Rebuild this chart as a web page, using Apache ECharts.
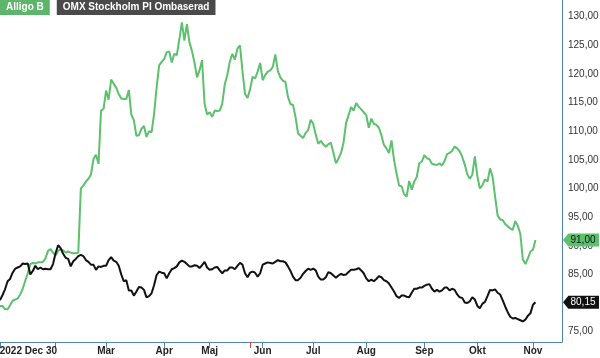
<!DOCTYPE html>
<html><head><meta charset="utf-8">
<script src="https://cdn.jsdelivr.net/npm/echarts@6/dist/echarts.min.js"></script>
<style>html,body{margin:0;padding:0;background:#fff}#c{width:600px;height:358px}</style>
</head><body><div id="c"></div>
<script>
// Trading-day values, day 0 = 2022-12-30
const alligoB = [
79.5,79.5,78.9,78.9,79.6,80.4,80.6,80.8,81.5,82.5,
83.9,85.2,86.8,87.0,86.9,87.1,87.1,87.2,87.8,89.1,
89.4,88.8,88.3,89.1,89.4,89.2,88.8,89.0,88.8,88.7,
88.7,88.8,100.0,100.5,101.2,101.7,102.4,105.1,105.9,104.3,
113.6,113.9,117.1,115.5,119.0,118.3,117.6,116.5,115.7,115.6,
115.6,117.2,112.9,111.9,109.2,109.3,110.4,110.9,109.0,110.0,
109.8,113.0,117.6,121.5,122.1,122.6,123.8,123.9,122.0,123.5,
123.3,126.0,129.0,125.8,128.7,125.5,124.0,122.0,119.4,120.6,
122.4,114.8,112.9,113.3,112.5,113.6,113.5,113.6,114.8,118.2,
119.8,122.2,123.5,122.5,124.4,125.0,120.5,116.5,115.8,117.3,
119.5,119.2,120.4,121.9,118.9,119.8,120.4,120.6,121.2,123.4,
120.5,119.4,118.8,118.6,116.0,114.7,114.6,112.5,109.6,109.2,
108.8,109.7,110.2,112.0,111.3,109.4,107.8,108.3,107.7,107.3,
107.7,108.0,106.2,104.4,105.2,106.2,108.0,111.4,112.8,114.2,
113.6,114.9,114.3,113.8,113.3,112.8,110.6,112.2,111.3,111.1,
110.6,109.3,107.6,107.0,106.2,108.4,105.0,102.6,100.5,100.4,
99.0,98.6,101.3,99.8,101.2,102.0,104.4,104.7,105.8,105.3,
105.1,104.3,104.2,104.1,104.4,104.0,104.8,106.0,106.2,106.6,
107.3,107.0,106.5,105.5,104.2,102.5,101.7,102.4,105.6,102.1,
100.0,100.6,101.6,101.2,103.5,102.1,98.6,95.3,94.6,94.5,
93.8,93.4,93.0,92.8,94.3,93.5,92.1,87.6,86.8,87.8,
89.0,89.3,91.0
];
const omxPI = [
80.5,81.4,82.4,83.8,84.2,85.3,86.0,86.2,86.4,86.9,
86.8,86.9,85.0,85.6,86.5,85.9,86.2,85.9,86.0,85.9,
85.9,86.8,88.7,90.1,89.6,88.6,87.9,87.7,86.4,87.3,
87.7,88.2,88.4,88.2,87.5,87.2,86.7,86.7,85.8,86.4,
86.3,86.5,86.5,87.5,88.0,87.4,87.2,86.5,85.0,83.8,
84.0,82.2,82.2,81.3,82.0,82.8,82.7,82.3,81.0,81.2,
81.7,83.1,84.9,85.5,85.3,85.2,84.3,85.2,85.9,86.1,
86.4,87.1,87.4,87.2,86.8,86.4,86.4,86.6,86.5,86.1,
86.6,87.2,86.2,85.8,85.9,86.2,86.3,85.7,85.2,85.7,
85.7,86.2,86.2,85.9,86.5,87.0,86.7,85.2,84.5,85.3,
85.5,85.3,84.6,85.2,86.7,86.9,87.1,87.0,86.9,87.2,
87.5,87.3,87.3,87.1,86.4,85.6,84.6,84.0,84.0,84.4,
85.1,85.6,86.0,85.8,86.0,85.7,84.6,84.1,84.1,84.5,
85.4,85.2,84.8,84.4,84.8,85.1,84.9,85.0,85.4,85.8,
85.8,85.9,86.1,85.7,85.2,84.3,83.8,84.1,83.8,84.2,
84.7,84.5,84.0,83.8,83.4,82.7,82.0,81.2,80.9,81.3,
81.3,81.1,81.0,81.8,82.5,82.5,82.7,82.7,83.0,83.2,
83.3,82.5,82.0,82.3,82.0,82.2,82.7,82.7,82.2,82.5,
82.3,81.5,81.0,80.9,80.1,80.0,80.3,81.0,80.6,79.5,
79.1,79.9,80.2,81.2,82.3,82.2,82.4,81.8,81.5,80.5,
79.4,78.4,77.6,77.3,77.4,77.2,77.0,76.8,77.1,77.8,
78.2,79.7,80.15
];
const monthTickDays = [0,22,42,65,83,104,124,145,168,189,211];
const monthTickLabels = ['2022 Dec 30','','Mar','Apr','Maj','Jun','Jul','Aug','Sep','Okt','Nov'];
const eventDays = [99];
const yTicks = [75,80,85,90,95,100,105,110,115,120,125,130];
const seriesNames = ['Alligo B','OMX Stockholm PI Ombaserad'];

const X_MIN = 0, X_MAX = 222.5, Y_MIN = 73.2, Y_MAX = 132.9;
const GREEN = '#5cc06e', BLACK = '#111111', AXIS = '#4f86ae';
const FONT = 'Liberation Sans, Arial, sans-serif';
const fmt = v => v.toFixed(2).replace('.', ',');
const toPairs = arr => arr.map((v, i) => [i, v]);

function endTag(arr, bg, fg) {
  const last = arr[arr.length - 1];
  return {
    silent: true, animation: false,
    symbol: 'path://M0,6L6,0L40,0L40,12L6,12Z',
    symbolSize: [36, 13],
    symbolOffset: [19, 0],
    itemStyle: { color: bg },
    label: { show: true, position: 'inside', offset: [2, 0], color: fg, fontSize: 10,
             fontFamily: FONT, formatter: () => fmt(last) },
    data: [{ coord: [X_MAX, last] }]
  };
}

const chart = echarts.init(document.getElementById('c'), null, { renderer: 'canvas' });
chart.setOption({
  animation: false,
  backgroundColor: '#fff',
  grid: { left: 0, right: 38, top: 0, bottom: 16, containLabel: false, outerBoundsMode: 'none' },
  legend: {
    left: -5, top: 0, itemGap: 2, itemWidth: 0, itemHeight: 0, icon: 'none',
    selectedMode: false, padding: 0,
    data: [
      { name: seriesNames[0], textStyle: { color: '#fff', backgroundColor: '#5cb56a', padding: [3, 6, 2, 6], fontWeight: 'bold', fontSize: 10, fontFamily: FONT } },
      { name: seriesNames[1], textStyle: { color: '#fff', backgroundColor: '#4a4a4a', padding: [3, 6, 2, 6], fontWeight: 'bold', fontSize: 10, fontFamily: FONT } }
    ]
  },
  xAxis: [{
    type: 'value', min: X_MIN, max: X_MAX,
    splitLine: { show: false },
    axisLine: { show: true, onZero: false, lineStyle: { color: AXIS, width: 1 } },
    axisTick: { show: true, customValues: monthTickDays, length: 6, lineStyle: { color: AXIS } },
    axisLabel: {
      customValues: monthTickDays, margin: 4,
      color: '#222', fontWeight: 'bold', fontSize: 10, fontFamily: FONT,
      formatter: v => {
        const k = monthTickDays.indexOf(Math.round(v));
        const t = k >= 0 ? monthTickLabels[k] : '';
        return k === 0 ? '{first|' + t + '}' : t;
      },
      rich: { first: { width: 114, align: 'right', color: '#222', fontWeight: 'bold', fontSize: 10, fontFamily: FONT } }
    }
  }, {
    type: 'value', min: X_MIN, max: X_MAX, position: 'bottom',
    splitLine: { show: false },
    axisLine: { show: false, onZero: false },
    axisTick: { show: true, customValues: eventDays, length: 6, lineStyle: { color: '#e8404a', width: 1 } },
    axisLabel: { show: false }
  }],
  yAxis: {
    type: 'value', position: 'right', min: Y_MIN, max: Y_MAX,
    splitLine: { show: false },
    axisLine: { show: true, onZero: false, lineStyle: { color: AXIS, width: 1 } },
    axisTick: { show: false },
    axisLabel: {
      customValues: yTicks, margin: 6, color: '#333', fontSize: 10, fontFamily: FONT,
      formatter: v => fmt(v)
    }
  },
  series: [{
    name: seriesNames[0], type: 'line', data: toPairs(alligoB), showSymbol: false,
    lineStyle: { color: GREEN, width: 2 }, itemStyle: { color: GREEN }, z: 3,
    markPoint: endTag(alligoB, GREEN, '#111')
  }, {
    name: seriesNames[1], type: 'line', data: toPairs(omxPI), showSymbol: false,
    lineStyle: { color: BLACK, width: 2 }, itemStyle: { color: BLACK }, z: 4,
    markPoint: endTag(omxPI, BLACK, '#fff')
  }]
});
</script>
</body></html>
